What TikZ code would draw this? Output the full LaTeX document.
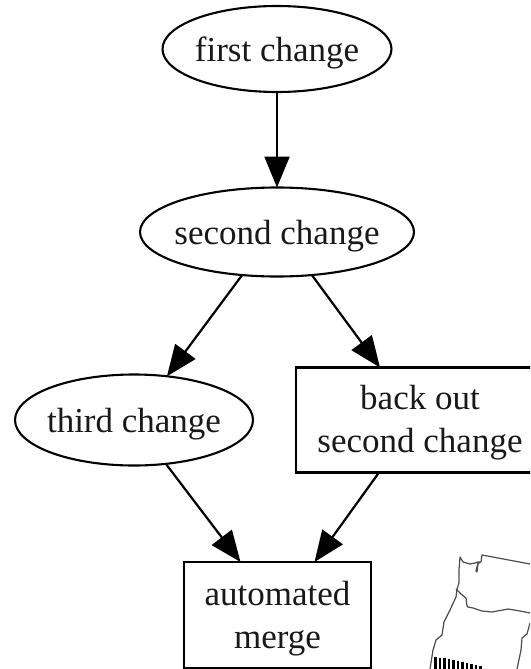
\documentclass[tikz,border=0pt]{standalone}
\usepackage{fontspec}
\setmainfont{Liberation Serif}
\usetikzlibrary{shapes.geometric,arrows.meta}
\newcommand{\lowertext}[2][-10.5pt]{\makebox[0pt][c]{\raisebox{#1}[0pt][0pt]{\begin{tabular}{@{}c@{}}#2\end{tabular}}}}
\tikzset{
  x=1pt,y=-1pt,
  base/.style={draw=black,line width=2.1pt,inner sep=0pt,outer sep=0pt,align=center,font=\fontsize{35}{43}\selectfont,text=black!90},
  oval/.style={base,ellipse},
  boxed/.style={base,rectangle},
  edge/.style={draw=black,line width=2.2pt,-{Triangle[length=31pt,width=25pt]},shorten >=0pt},
  mapline/.style={draw=black!70,line width=1.2pt,line join=round}
}
\begin{document}
\begin{tikzpicture}
\useasboundingbox (0,0) rectangle (530,669);
\clip (0,0) rectangle (530,669);
\node[oval,minimum width=229pt,minimum height=86pt] (first) at (277,49) {\lowertext{first change}};
\node[oval,minimum width=274pt,minimum height=89pt] (second) at (277,232) {\lowertext[-10pt]{second change}};
\node[oval,minimum width=238pt,minimum height=91pt] (third) at (134,420) {\lowertext[-10pt]{third change}};
\node[boxed,minimum width=248pt,minimum height=105pt] (backout) at (420,420) {\lowertext[-8.5pt]{back out\\second change}};
\node[boxed,minimum width=187pt,minimum height=106pt] (merge) at (277.5,615) {\lowertext[-9.5pt]{automated\\merge}};
\draw[edge] (first.south) -- (second.north);
\draw[edge] (second.231) -- (third.53);
\draw[edge] (second.-51) -- ([xshift=-40pt]backout.north);
\draw[edge] (third.-54) -- ([xshift=-37pt]merge.north);
\draw[edge] ([xshift=-41pt]backout.south) -- ([xshift=37pt]merge.north);
% map outline
\draw[mapline] (530,564) -- (482,555) -- (481,562) -- (478,563) -- (476,571) -- (477,572) -- (478,564) -- (480,562) -- (478,562) -- (475,563) -- (470,564) -- (463,562) -- (460,557) -- (459,570) -- (459,583) -- (457,589) -- (456,597) -- (450,610) -- (444,622) -- (442,635) -- (436,640) -- (433,650) -- (430,669);
\draw[mapline] (456,589) -- (461,594) -- (466,598) -- (467,606) -- (468,607) -- (473,608) -- (482,611) -- (492,612) -- (508,609) -- (520,611) -- (530,613);
\draw[mapline] (530,623) -- (527,634) -- (522,638) -- (521,650) -- (517,669);
% hatching
\foreach \x/\y in {435.5/657,440/657.5,444.5/658,449/659,453.5/660,458/661,462.5/662,467/663,471.5/664,476/665,480.5/666}
  \draw[black,line width=2.3pt] (\x,\y) -- (\x,669);
\end{tikzpicture}
\end{document}
